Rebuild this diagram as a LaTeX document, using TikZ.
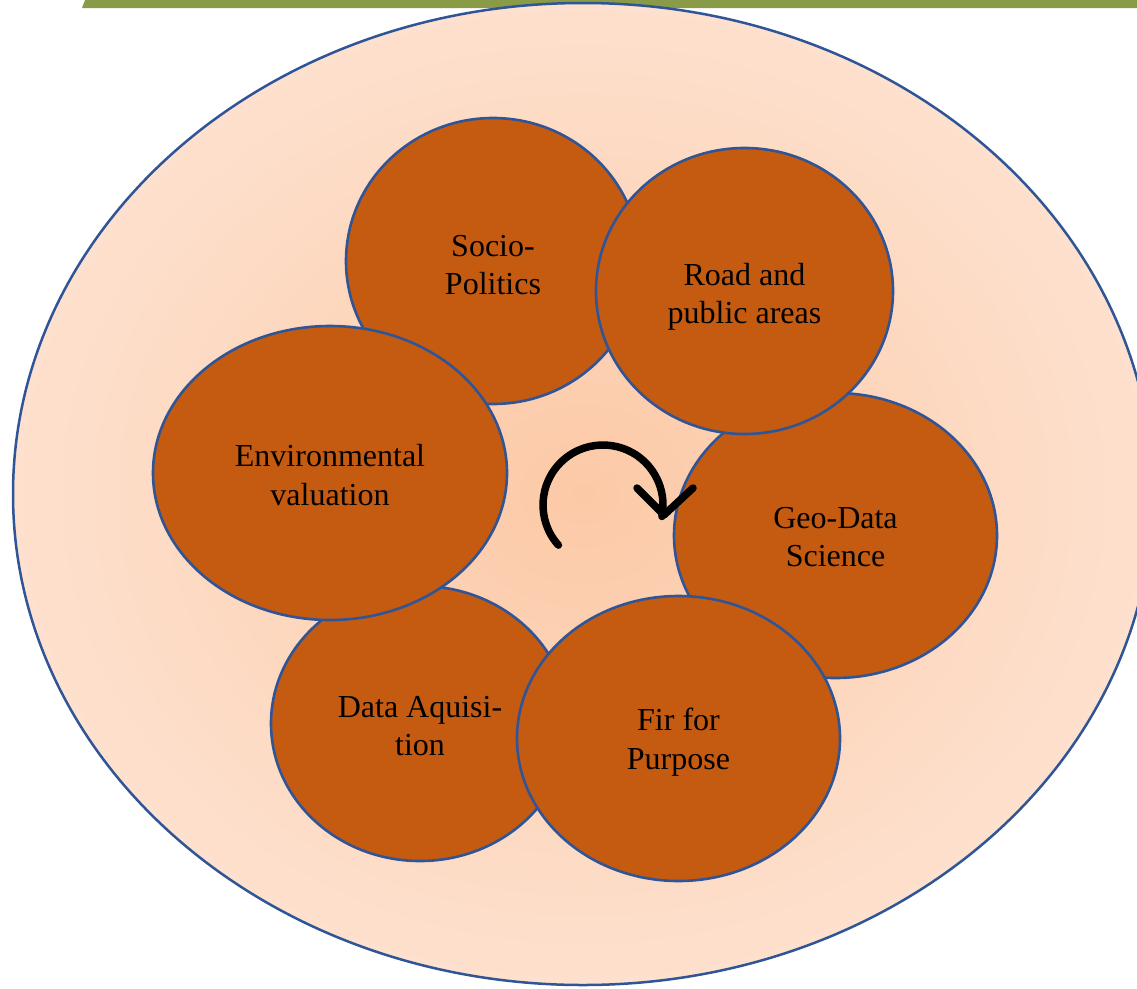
\documentclass[tikz,border=0pt]{standalone}
\usepackage{fontspec}
\setmainfont{Liberation Serif}
\usetikzlibrary{shapes.geometric,calc}
\definecolor{bubblec}{RGB}{197,90,17}
\definecolor{rim}{RGB}{47,85,151}
\definecolor{peachin}{RGB}{252,201,166}
\definecolor{peachmid}{RGB}{253,222,202}
\definecolor{peachout}{RGB}{254,238,229}
\definecolor{barolive}{RGB}{138,155,72}
\pgfdeclareradialshading{bgshade}{\pgfpoint{0bp}{0bp}}{color(0bp)=(peachin); color(22bp)=(peachmid); color(50bp)=(peachout); color(75bp)=(peachout)}
\begin{document}
\begin{tikzpicture}[x=1pt,y=-1pt,
  bubble/.style={ellipse, draw=rim, line width=2.6pt, fill=bubblec, align=center,
    font=\fontsize{32}{38.5}\selectfont, inner sep=0pt, text=black},
  turnline/.style={line width=7.5pt, line cap=round, line join=round, draw=black}]
\useasboundingbox (0,0) rectangle (1137,988);
\fill[barolive] (85,0) -- (1137,0) -- (1137,8) -- (82,8) -- cycle;
\node[ellipse, draw=rim, line width=2.5pt, shade, shading=bgshade,
  minimum width=1140pt, minimum height=982pt, inner sep=0pt] (outer) at (583,494) {};
\node[bubble, minimum width=294pt, minimum height=286pt] (socio) at (493,261) {};
\node[bubble, minimum width=323pt, minimum height=285pt] (geo) at (835.5,535.5) {};
\node[bubble, minimum width=298pt, minimum height=275pt] (data) at (420,723.5) {};
\node[bubble, minimum width=297pt, minimum height=286pt] (road) at (744.5,291) {};
\node[bubble, minimum width=323pt, minimum height=285pt] (fir) at (678.5,738.5) {};
\node[bubble, minimum width=354pt, minimum height=294pt] (env) at (330,473) {};
\tikzset{label/.style={align=center, font=\fontsize{32}{38.5}\selectfont, inner sep=0pt, text=black}}
\node[label] (sociot) at (493,265) {Socio-\\Politics};
\node[label] (geot) at (835.5,537) {Geo-Data\\Science};
\node[label] (datat) at (420,726) {Data Aquisi-\\tion};
\node[label] (roadt) at (744.5,297) {Road and\\public areas};
\node[label] (firt) at (678.5,742) {Fir for\\Purpose};
\node[label] (envt) at (330,475) {Environmental\\valuation};
\coordinate (turnc) at (603,505);
\coordinate (turnstart) at ($(turnc)+(138:60)$);
\coordinate (headl) at (637,488);
\coordinate (headtip) at (664,515);
\coordinate (headr) at (693,488);
\draw[turnline] (turnstart) arc[start angle=138, end angle=371, radius=60];
\draw[turnline] (headl) -- (headtip) -- (headr);
\end{tikzpicture}
\end{document}
